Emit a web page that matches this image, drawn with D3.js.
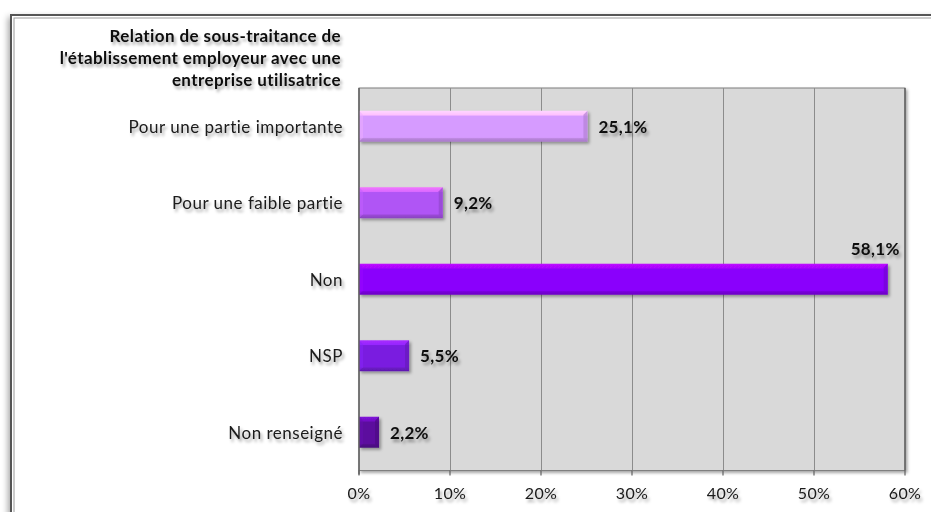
<!DOCTYPE html>
<html><head><meta charset="utf-8">
<script src="https://cdn.jsdelivr.net/npm/d3@7"></script>
<style>
html,body{margin:0;padding:0;background:#fff;}
svg{display:block;font-family:Lato,"Open Sans",sans-serif;}
</style></head>
<body>
<svg id="c" width="931" height="512"></svg>
<script>
const categories = ["Pour une partie importante","Pour une faible partie","Non","NSP","Non renseigné"];
const values = [25.1, 9.2, 58.1, 5.5, 2.2];
const valueLabels = ["25,1%","9,2%","58,1%","5,5%","2,2%"];
const barColors = ["#d69bff","#b055f5","#8a05fc","#7a1fe0","#5c0d9e"];
const tickValues = [0,10,20,30,40,50,60];
const titleLines = ["Relation de sous-traitance de","l'établissement employeur avec une","entreprise utilisatrice"];

const svg = d3.select("#c");
const defs = svg.append("defs");

const ts = defs.append("filter").attr("id","tshadow").attr("x","-20%").attr("y","-50%").attr("width","140%").attr("height","200%");
ts.append("feDropShadow").attr("dx",2).attr("dy",3).attr("stdDeviation",1.8).attr("flood-color","#000").attr("flood-opacity",0.35);

const bs = defs.append("filter").attr("id","bshadow").attr("x","-10%").attr("y","-30%").attr("width","130%").attr("height","180%");
bs.append("feDropShadow").attr("dx",2).attr("dy",2).attr("stdDeviation",1.5).attr("flood-color","#000").attr("flood-opacity",0.35);

const fs = defs.append("filter").attr("id","fshadow").attr("x","-5%").attr("y","-5%").attr("width","110%").attr("height","110%");
fs.append("feDropShadow").attr("dx",-2).attr("dy",3).attr("stdDeviation",3).attr("flood-color","#000").attr("flood-opacity",0.35);

// outer frame
svg.append("rect").attr("x",11).attr("y",15).attr("width",960).attr("height",560)
  .attr("fill","#fff").attr("stroke","#555").attr("stroke-width",2).attr("filter","url(#fshadow)");
svg.append("rect").attr("x",14).attr("y",18).attr("width",960).attr("height",560)
  .attr("fill","none").attr("stroke","#9a9a9a").attr("stroke-width",1);

const L = 359, R = 905, T = 88, B = 470.5;
const x = d3.scaleLinear().domain([0,60]).range([L,R]);
const y = d3.scaleBand().domain(categories).range([T,B]).paddingInner(0.595).paddingOuter(0.2975);

// plot area
svg.append("rect").attr("x",L).attr("y",T).attr("width",R-L).attr("height",B-T)
  .attr("fill","#d9d9d9").attr("stroke","#7f7f7f").attr("stroke-width",1).attr("filter","url(#bshadow)");
svg.append("line").attr("x1",R).attr("x2",R).attr("y1",T).attr("y2",B).attr("stroke","#505050").attr("stroke-width",1.2);

// gridlines
svg.append("g").selectAll("line").data(tickValues.slice(1,-1)).join("line")
  .attr("x1",d=>x(d)+0.5).attr("x2",d=>x(d)+0.5).attr("y1",T).attr("y2",B)
  .attr("stroke","#8c8c8c").attr("stroke-width",1);

// gradients for bars
barColors.forEach((c,i)=>{
  const g = defs.append("linearGradient").attr("id","bg"+i).attr("x1",0).attr("x2",0).attr("y1",0).attr("y2",1);
  const base = d3.color(c);
  g.append("stop").attr("offset","0%").attr("stop-color",base.brighter(0.9));
  g.append("stop").attr("offset","14%").attr("stop-color",base.brighter(0.6));
  g.append("stop").attr("offset","17%").attr("stop-color",base);
  g.append("stop").attr("offset","86%").attr("stop-color",base);
  g.append("stop").attr("offset","90%").attr("stop-color",base.darker(0.4));
  g.append("stop").attr("offset","100%").attr("stop-color",base.darker(0.7));
});

const bars = svg.append("g");
categories.forEach((cat,i)=>{
  const x0 = x(0), x1 = x(values[i]), y0 = y(cat), h = y.bandwidth();
  bars.append("rect").attr("x",x0).attr("y",y0).attr("width",x1-x0).attr("height",h)
    .attr("fill","url(#bg"+i+")").attr("filter","url(#bshadow)");
  const base = d3.color(barColors[i]);
  bars.append("path")
    .attr("d",`M${x1-4},${y0+4} L${x1},${y0} L${x1},${y0+h} L${x1-4},${y0+h-4} Z`)
    .attr("fill",base.darker(0.5)).attr("opacity",0.7);
  bars.append("path")
    .attr("d",`M${x0},${y0} L${x0+4},${y0+4} L${x0+4},${y0+h-4} L${x0},${y0+h} Z`)
    .attr("fill",base.brighter(0.3)).attr("opacity",0.5);
});

// axes lines
svg.append("line").attr("x1",L).attr("x2",R).attr("y1",B).attr("y2",B).attr("stroke","#606060").attr("stroke-width",1.5).attr("filter","url(#bshadow)");
svg.append("line").attr("x1",L).attr("x2",L).attr("y1",T).attr("y2",B+4).attr("stroke","#606060").attr("stroke-width",1.5);
svg.append("g").selectAll("line").data(tickValues).join("line")
  .attr("x1",d=>x(d)).attr("x2",d=>x(d)).attr("y1",B).attr("y2",B+5)
  .attr("stroke","#606060").attr("stroke-width",1.2);

// tick labels
svg.append("g").selectAll("text").data(tickValues).join("text")
  .attr("x",d=>x(d)).attr("y",B+28).attr("text-anchor","middle")
  .attr("font-size",16).attr("letter-spacing",0.4).attr("fill","#1a1a1a").attr("filter","url(#tshadow)")
  .text(d=>d+"%");

// category labels
svg.append("g").selectAll("text").data(categories).join("text")
  .attr("x",343).attr("y",d=>y(d)+y.bandwidth()/2+1).attr("dy","0.32em")
  .attr("text-anchor","end").attr("font-size",17).attr("letter-spacing",0.5).attr("fill","#1a1a1a").attr("filter","url(#tshadow)")
  .text(d=>d);

// value labels
svg.append("g").selectAll("text").data(categories).join("text")
  .attr("x",(d,i)=> values[i] > 50 ? x(values[i])+12 : x(values[i])+11)
  .attr("y",(d,i)=> values[i] > 50 ? y(d)-9 : y(d)+y.bandwidth()/2+1)
  .attr("dy",(d,i)=> values[i] > 50 ? "0" : "0.32em")
  .attr("text-anchor",(d,i)=> values[i] > 50 ? "end" : "start")
  .attr("font-size",17).attr("letter-spacing",0.3).attr("font-weight","bold").attr("fill","#111").attr("filter","url(#tshadow)")
  .text((d,i)=>valueLabels[i]);

// title
svg.append("g").selectAll("text").data(titleLines).join("text")
  .attr("x",341).attr("y",(d,i)=>42+i*22).attr("text-anchor","end")
  .attr("font-size",17).attr("letter-spacing",0.4).attr("font-weight","bold").attr("fill","#111").attr("filter","url(#tshadow)")
  .text(d=>d);
</script>
</body></html>
